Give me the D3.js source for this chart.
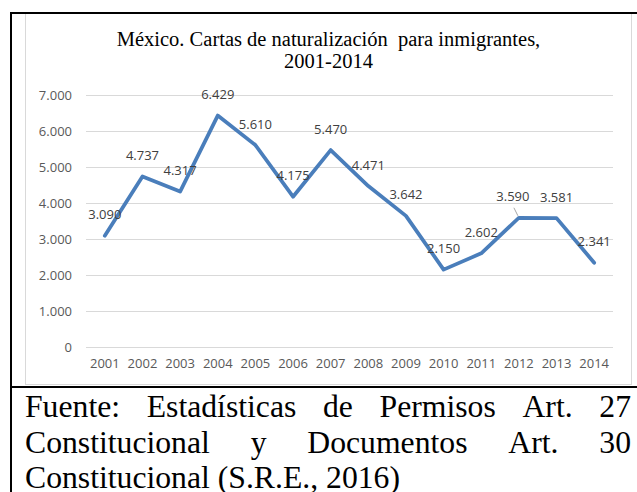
<!DOCTYPE html>
<html>
<head>
<meta charset="utf-8">
<script src="https://cdn.jsdelivr.net/npm/d3@7"></script>
<style>
  body { margin: 0; background: #fff; }
  svg { display: block; }
</style>
</head>
<body>
<div id="chart"></div>
<script>
// data
var years = ["2001","2002","2003","2004","2005","2006","2007","2008","2009","2010","2011","2012","2013","2014"];
var cartas = [3090, 4737, 4317, 6429, 5610, 4175, 5470, 4471, 3642, 2150, 2602, 3590, 3581, 2341];
var yTicks = [0, 1000, 2000, 3000, 4000, 5000, 6000, 7000];
var titleLines = ["México. Cartas de naturalización\u00a0 para inmigrantes,", "2001-2014"];
var sourceLines = [
  "Fuente: Estadísticas de Permisos Art. 27",
  "Constitucional y Documentos Art. 30",
  "Constitucional (S.R.E., 2016)"
];

var W = 637, H = 492;
var margin = {top: 95, right: 24, bottom: 145, left: 86},
    width = W - margin.left - margin.right,
    height = 347 - margin.top;

// spanish style thousands: 7.000
var fmt = function(v) { return d3.format(",")(v).replace(/,/g, "."); };

var svg = d3.select("#chart").append("svg")
    .attr("width", W)
    .attr("height", H);

// chart frame
svg.append("rect")
    .attr("x", 25.5).attr("y", 13.5)
    .attr("width", 606).attr("height", 371)
    .attr("fill", "#fff")
    .attr("stroke", "#d9d9d9");

// table borders
svg.append("line").attr("x1", 10).attr("x2", W).attr("y1", 13).attr("y2", 13)
    .attr("stroke", "#000").attr("stroke-width", 2);
svg.append("line").attr("x1", 11).attr("x2", 11).attr("y1", 12).attr("y2", H)
    .attr("stroke", "#000").attr("stroke-width", 2);
svg.append("line").attr("x1", 10).attr("x2", W).attr("y1", 387).attr("y2", 387)
    .attr("stroke", "#000").attr("stroke-width", 2);

// title
svg.append("text")
    .attr("x", 328.5)
    .attr("text-anchor", "middle")
    .style("font-family", "'Liberation Serif', 'Times New Roman', serif")
    .style("font-size", "20.5px")
    .attr("fill", "#000")
  .selectAll("tspan")
  .data(titleLines)
  .enter().append("tspan")
    .attr("x", 328.5)
    .attr("y", function(d, i) { return 46 + i * 21.5; })
    .text(function(d) { return d; });

var g = svg.append("g")
    .attr("transform", "translate(" + margin.left + "," + margin.top + ")");

var x = d3.scaleBand().domain(years).range([0, width]);
var y = d3.scaleLinear().domain([0, 7000]).range([height, 0]);

// gridlines
var yAxis = g.append("g")
    .call(d3.axisLeft(y).tickValues(yTicks).tickSize(-width).tickFormat(fmt).tickPadding(14));
yAxis.select(".domain").remove();
yAxis.selectAll(".tick line").attr("stroke", "#d9d9d9");
yAxis.selectAll(".tick text")
    .attr("fill", "#595959")
    .style("font-family", "'Open Sans', sans-serif")
    .style("font-size", "13px");

var xAxis = g.append("g")
    .attr("transform", "translate(0," + height + ")")
    .call(d3.axisBottom(x).tickSize(0).tickPadding(12));
xAxis.select(".domain").remove();
xAxis.selectAll(".tick text")
    .attr("fill", "#595959")
    .style("font-family", "'Open Sans', sans-serif")
    .style("font-size", "13px");

var line = d3.line()
    .x(function(d, i) { return x(years[i]) + x.bandwidth() / 2; })
    .y(function(d) { return y(d); });

g.append("path")
    .datum(cartas)
    .attr("d", line)
    .attr("fill", "none")
    .attr("stroke", "#4a7ebb")
    .attr("stroke-width", 3.75)
    .attr("stroke-linejoin", "round")
    .attr("stroke-linecap", "round");

// 2012 label got pushed a bit left, with a leader line back to the point
var nudge = {11: -6};

g.append("line")
    .attr("x1", x("2012") + x.bandwidth() / 2 - 5)
    .attr("y1", y(cartas[11]) - 10)
    .attr("x2", x("2012") + x.bandwidth() / 2 - 1)
    .attr("y2", y(cartas[11]) - 2)
    .attr("stroke", "#a6a6a6")
    .attr("stroke-width", 1);

g.selectAll(".lbl")
    .data(cartas)
  .enter().append("text")
    .attr("class", "lbl")
    .attr("x", function(d, i) { return x(years[i]) + x.bandwidth() / 2 + (nudge[i] || 0); })
    .attr("y", function(d) { return y(d) - 16.5; })
    .attr("text-anchor", "middle")
    .attr("fill", "#404040")
    .style("font-family", "'Open Sans', sans-serif")
    .style("font-size", "13px")
    .text(fmt);

// source note, justified like the document paragraph
var src = svg.append("g")
    .style("font-family", "'Liberation Serif', 'Times New Roman', serif")
    .style("font-size", "31.7px")
    .attr("fill", "#000");
var left = 25, right = 631, lineH = 35.5, base0 = 417;

sourceLines.forEach(function(txt, li) {
  var yy = base0 + li * lineH;
  if (li === sourceLines.length - 1) {
    src.append("text").attr("x", left).attr("y", yy).text(txt);
    return;
  }
  var words = txt.split(" ");
  var nodes = words.map(function(w) {
    return src.append("text").attr("y", yy).text(w);
  });
  var widths = nodes.map(function(n) { return n.node().getComputedTextLength(); });
  var gap = (right - left - d3.sum(widths)) / (words.length - 1);
  var cx = left;
  nodes.forEach(function(n, i) {
    n.attr("x", cx);
    cx += widths[i] + gap;
  });
});
</script>
</body>
</html>
